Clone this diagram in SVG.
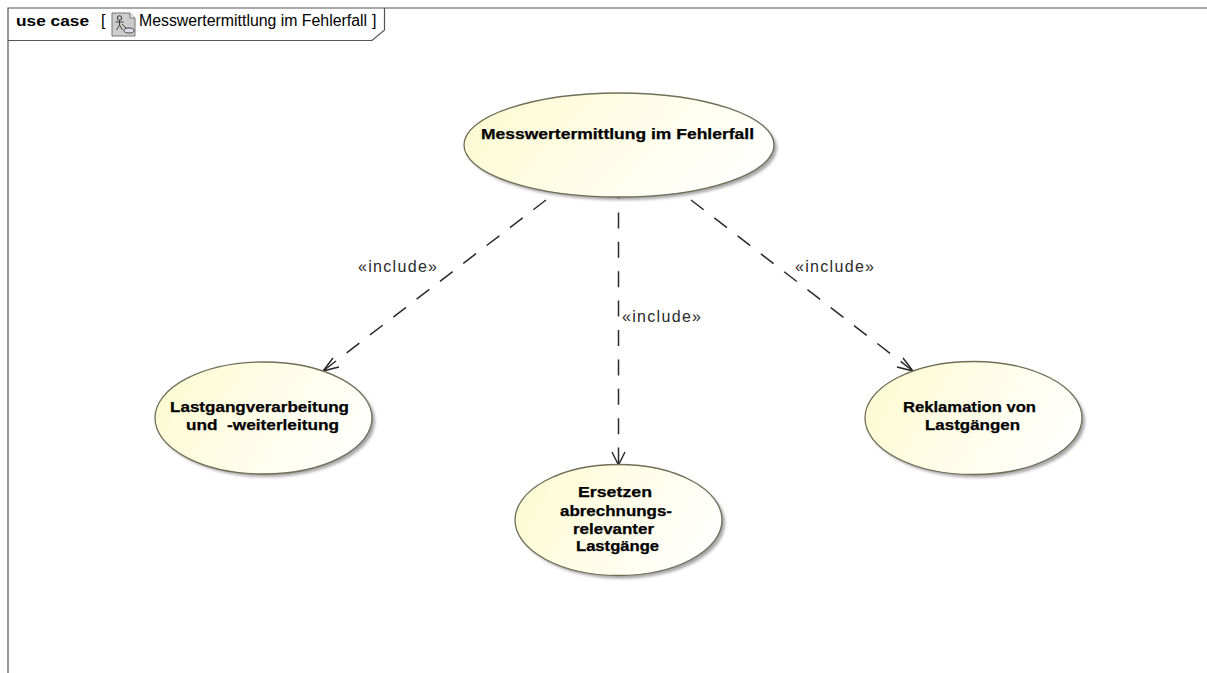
<svg xmlns="http://www.w3.org/2000/svg" width="1207" height="673" viewBox="0 0 1207 673">
<style>
text{font-family:"Liberation Sans",Arial,sans-serif;fill:#000}
.uc{font-size:15px;font-weight:bold;text-anchor:middle;stroke:#000;stroke-width:.25}
.lbl{font-size:16px;fill:#2a2a2a}
.e{fill:url(#g);stroke:#6f6f58;stroke-width:1.3}
.s{fill:#888;opacity:.75;filter:url(#b)}
.c{fill:none;stroke:#2a2a2a;stroke-width:1.5}
.h{fill:none;stroke:#222;stroke-width:1.4}
.d{stroke-dasharray:16 13.400}
.f{fill:none;stroke:#555;stroke-width:1.2}
</style>
<defs>
<linearGradient id="g" x1="0" y1="0.3" x2="1" y2="0.6">
<stop offset="0" stop-color="#fcfad2"/><stop offset=".45" stop-color="#fffde6"/><stop offset="1" stop-color="#ffffff"/>
</linearGradient>
<filter id="b" x="-10%" y="-10%" width="120%" height="120%"><feGaussianBlur stdDeviation="1.5"/></filter>
</defs>
<rect width="1207" height="673" fill="#fff"/>
<g id="frame">
<path class="f" d="M8 673V8H1207"/>
<path class="f" d="M8 40.500H372L384.500 30V8"/>
<text x="16" y="26" font-size="15" font-weight="bold" textLength="73" lengthAdjust="spacingAndGlyphs">use case</text>
<text x="101" y="26" font-size="16">[</text>
<g id="diagram-icon">
<path d="M112 13H130L135 18V36H112Z" fill="#ccc" stroke="#777"/>
<path d="M130 13V18H135" fill="#eee" stroke="#777"/>
<circle cx="119.500" cy="18" r="2.200" fill="none" stroke="#333"/>
<path d="M119.500 20V25M115.500 22H123.500M119.500 25L116.500 30M119.500 25L122.500 30M122 24L127 29" fill="none" stroke="#333" stroke-width=".9"/>
<ellipse cx="129" cy="30.500" rx="5" ry="2.500" fill="#dde" stroke="#333" stroke-width=".9"/>
</g>
<text x="139" y="26" font-size="16" textLength="228" lengthAdjust="spacingAndGlyphs">Messwertermittlung im Fehlerfall</text>
<text x="372" y="26" font-size="16">]</text>
</g>
<g id="connectors">
<path class="c d" d="M546 200L323 371"/>
<path class="h" d="M333 358L323 371L339 367"/>
<path class="c d" stroke-dashoffset="14" d="M618.500 197V465"/>
<path class="h" d="M612 452L618.500 465L625 452"/>
<path class="c d" d="M691 200L913 371"/>
<path class="h" d="M897 367L913 371L903 358"/>
<text class="lbl" x="358" y="272" textLength="79" lengthAdjust="spacing">«include»</text>
<text class="lbl" x="622" y="322" textLength="79" lengthAdjust="spacing">«include»</text>
<text class="lbl" x="795" y="272" textLength="79" lengthAdjust="spacing">«include»</text>
</g>
<g id="uc-main">
<ellipse class="s" cx="622" cy="148" rx="155" ry="52"/>
<ellipse class="e" cx="619" cy="145" rx="155" ry="52"/>
<text class="uc" x="617.500" y="139" textLength="273" lengthAdjust="spacingAndGlyphs">Messwertermittlung im Fehlerfall</text>
</g>
<g id="uc-lastgang">
<ellipse class="s" cx="266.500" cy="421" rx="108.500" ry="56"/>
<ellipse class="e" cx="263.500" cy="418" rx="108.500" ry="56"/>
<text class="uc" x="259.500" y="412" textLength="179" lengthAdjust="spacingAndGlyphs">Lastgangverarbeitung</text>
<text class="uc" x="262.500" y="430" xml:space="preserve" textLength="153" lengthAdjust="spacingAndGlyphs">und  -weiterleitung</text>
</g>
<g id="uc-ersetzen">
<ellipse class="s" cx="621.500" cy="523" rx="103.500" ry="55.500"/>
<ellipse class="e" cx="618.500" cy="520" rx="103.500" ry="55.500"/>
<text class="uc" x="615" y="497" textLength="74" lengthAdjust="spacingAndGlyphs">Ersetzen</text>
<text class="uc" x="616" y="516" textLength="112" lengthAdjust="spacingAndGlyphs">abrechnungs-</text>
<text class="uc" x="613.500" y="534" textLength="81" lengthAdjust="spacingAndGlyphs">relevanter</text>
<text class="uc" x="617.500" y="551" textLength="83" lengthAdjust="spacingAndGlyphs">Lastgänge</text>
</g>
<g id="uc-reklamation">
<ellipse class="s" cx="976.500" cy="421" rx="108.500" ry="56.500"/>
<ellipse class="e" cx="973.500" cy="418" rx="108.500" ry="56.500"/>
<text class="uc" x="969.500" y="412" textLength="133" lengthAdjust="spacingAndGlyphs">Reklamation von</text>
<text class="uc" x="972.500" y="430" textLength="95" lengthAdjust="spacingAndGlyphs">Lastgängen</text>
</g>
</svg>
